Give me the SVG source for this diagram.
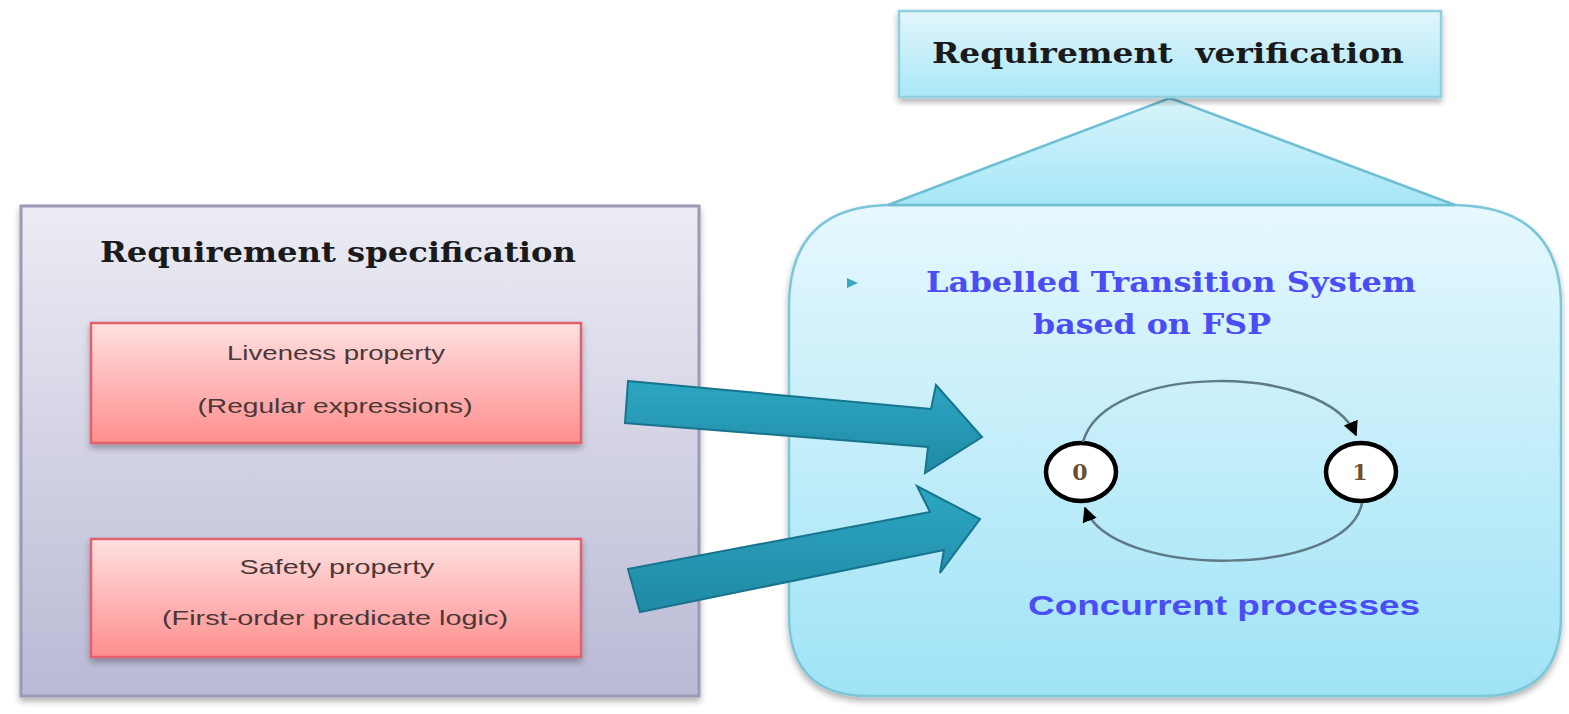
<svg xmlns="http://www.w3.org/2000/svg" width="1569" height="714" viewBox="0 0 1569 714">
<defs>
<linearGradient id="gLeft" x1="0" y1="0" x2="0" y2="1"><stop offset="0" stop-color="#ececf4"/><stop offset="1" stop-color="#b9b9d5"/></linearGradient>
<linearGradient id="gPink" x1="0" y1="0" x2="0" y2="1"><stop offset="0" stop-color="#ffe0e0"/><stop offset="1" stop-color="#ff8e8e"/></linearGradient>
<linearGradient id="gCyan" x1="0" y1="0" x2="0" y2="1"><stop offset="0" stop-color="#e6f8fd"/><stop offset="1" stop-color="#9fe3f6"/></linearGradient>
<linearGradient id="gTop" x1="0" y1="0" x2="0" y2="1"><stop offset="0" stop-color="#e2f6fc"/><stop offset="1" stop-color="#a9e7f7"/></linearGradient>
<linearGradient id="gTri" x1="0" y1="0" x2="0" y2="1"><stop offset="0" stop-color="#d8f4fb"/><stop offset="1" stop-color="#a6e6f7"/></linearGradient>
<linearGradient id="gArrow" x1="0" y1="0" x2="0" y2="1"><stop offset="0" stop-color="#2da6c2"/><stop offset="1" stop-color="#1f8aa5"/></linearGradient>
<filter id="sh" x="-5%" y="-5%" width="110%" height="115%"><feDropShadow dx="0" dy="4" stdDeviation="3" flood-color="#000" flood-opacity="0.3"/></filter>
<marker id="ah" viewBox="0 0 10 10" refX="9" refY="5" markerWidth="6" markerHeight="6" orient="auto"><path d="M0,0 L10,5 L0,10 z" fill="#000"/></marker>
<style>
.title{font-family:"DejaVu Serif","Liberation Serif",serif;font-weight:bold;font-size:27px;fill:#1a1a1a;text-anchor:middle;white-space:pre}
.blue{font-family:"DejaVu Serif","Liberation Serif",serif;font-weight:bold;font-size:27px;fill:#4a4cf5;text-anchor:middle}
.blues{font-family:"Liberation Sans","DejaVu Sans",sans-serif;font-weight:bold;font-size:28px;fill:#4a4cf5;text-anchor:middle}
.prop{font-family:"Liberation Sans","DejaVu Sans",sans-serif;font-size:21px;fill:#4a3838;text-anchor:middle}
.state{fill:#fff;stroke:#000;stroke-width:4.5}
.num{font-family:"DejaVu Serif",serif;font-weight:bold;font-size:22px;fill:#6a5030;text-anchor:middle}
.arc{fill:none;stroke:#5f7a84;stroke-width:2.5}
.arrow{fill:url(#gArrow);stroke:#17748c;stroke-width:2}
</style>
</defs>
<rect width="1569" height="714" fill="#fff"/>

<g id="spec">
<rect x="21" y="206" width="678" height="490" fill="url(#gLeft)" stroke="#9a9ab8" stroke-width="3" filter="url(#sh)"/>
<text class="title" x="338" y="262" textLength="476" lengthAdjust="spacingAndGlyphs">Requirement specification</text>
</g>

<g id="liveness">
<rect x="91" y="323" width="490" height="120" fill="url(#gPink)" stroke="#e0606e" stroke-width="2.5" filter="url(#sh)"/>
<text class="prop" x="336" y="360" textLength="218" lengthAdjust="spacingAndGlyphs">Liveness property</text>
<text class="prop" x="335" y="413" textLength="275" lengthAdjust="spacingAndGlyphs">(Regular expressions)</text>
</g>

<g id="safety">
<rect x="91" y="539" width="490" height="118" fill="url(#gPink)" stroke="#e0606e" stroke-width="2.5" filter="url(#sh)"/>
<text class="prop" x="337" y="574" textLength="195" lengthAdjust="spacingAndGlyphs">Safety property</text>
<text class="prop" x="335" y="625" textLength="346" lengthAdjust="spacingAndGlyphs">(First-order predicate logic)</text>
</g>

<g id="verification">
<path d="M888,205 L1455,205 Q1560,207 1561,305 L1561,615 Q1561,696 1482,696 L868,696 Q789,696 789,615 L789,305 Q790,207 888,205 Z" fill="url(#gCyan)" stroke="#7cc6da" stroke-width="2.5" filter="url(#sh)"/>
<path d="M1170,98 L1455,205 L888,205 Z" fill="url(#gTri)" stroke="#6fbfd4" stroke-width="2.5"/>
<polygon points="847,278 858,283 847,288" fill="#3aa8c4"/>
<text class="blue" x="1171" y="292" textLength="490" lengthAdjust="spacingAndGlyphs">Labelled Transition System</text>
<text class="blue" x="1152" y="334" textLength="238" lengthAdjust="spacingAndGlyphs">based on FSP</text>
<text class="blues" x="1224" y="615" textLength="392" lengthAdjust="spacingAndGlyphs">Concurrent processes</text>
</g>

<g id="verification-title">
<rect x="899" y="11" width="542" height="86" fill="url(#gTop)" stroke="#8fd0e0" stroke-width="2.5" filter="url(#sh)"/>
<text class="title" x="1168" y="63" textLength="472" lengthAdjust="spacingAndGlyphs" xml:space="preserve">Requirement  verification</text>
</g>

<g id="state0">
<ellipse class="state" cx="1081" cy="472" rx="35" ry="29"/>
<text class="num" x="1080" y="480">0</text>
</g>
<g id="state1">
<ellipse class="state" cx="1361" cy="472" rx="35" ry="29"/>
<text class="num" x="1360" y="480">1</text>
</g>

<g id="connectors">
<polygon class="arrow" points="628,381 931,409 936,385 982,437 925,473 928,447 625,423"/>
<polygon class="arrow" points="628,569 930,512 917,486 980,519 940,573 944,550 640,612"/>
<path class="arc" d="M1083,442 C1105,362 1325,362 1356,435" marker-end="url(#ah)"/>
<path class="arc" d="M1362,503 C1348,578 1112,580 1085,508" marker-end="url(#ah)"/>
</g>
</svg>
